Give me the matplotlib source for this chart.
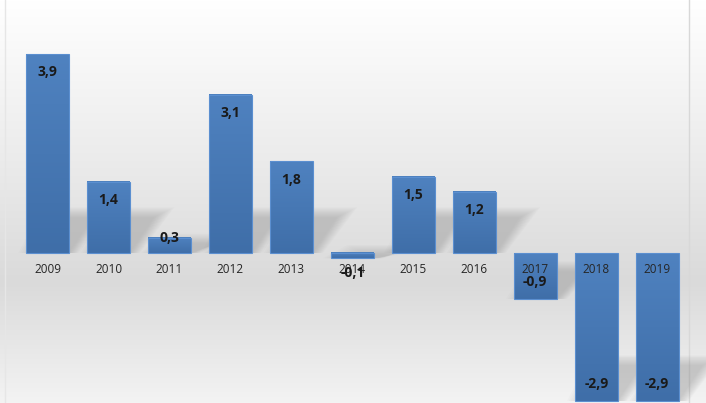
import numpy as np
from matplotlib import pyplot as plt
from matplotlib.patches import Rectangle, Polygon
from matplotlib.colors import LinearSegmentedColormap

# Data
years = ['2009', '2010', '2011', '2012', '2013', '2014', '2015', '2016', '2017', '2018', '2019']
values = [3.9, 1.4, 0.3, 3.1, 1.8, -0.1, 1.5, 1.2, -0.9, -2.9, -2.9]
value_labels = ['3,9', '1,4', '0,3', '3,1', '1,8', '-0,1', '1,5', '1,2', '-0,9', '-2,9', '-2,9']

plt.rcParams['font.family'] = ['Open Sans', 'DejaVu Sans']

fig = plt.figure(figsize=(7.06, 4.03), dpi=100)
ax = fig.add_axes([0, 0, 1, 1])
xlo, xhi = -0.78, 10.8
ylo, yhi = -2.94, 4.96
ax.set_xlim(xlo, xhi)
ax.set_ylim(ylo, yhi)
ax.axis('off')

# background gradient: white top -> grey -> lighter bottom
bg = LinearSegmentedColormap.from_list('bg', [(0, '#f3f3f3'), (0.3, '#dadada'),
                                              (0.6, '#ebebeb'), (1, '#ffffff')])
grad = np.linspace(0, 1, 256).reshape(-1, 1)
ax.imshow(grad, cmap=bg, origin='lower', aspect='auto',
          extent=[xlo, xhi, ylo, yhi], zorder=0)
ax.axvline(-0.7, color='#e6e6e6', lw=1, zorder=0.5)
ax.axvline(10.52, color='#d8d8d8', lw=1, zorder=0.5)

width = 0.7
barcmap = LinearSegmentedColormap.from_list('bar', ['#3f6ea8', '#4f82c0'])

for i, v in enumerate(values):
    x0 = i - width / 2
    base = min(0, v)
    top = max(0, v)

    # soft cast shadow at the lower end of the bar
    sh = min(0.7, abs(v) * 0.6)
    for k in range(12):
        g = k * 0.03
        pts = [(x0 + 0.2 - g, base), (x0 + width + g * 0.5, base),
               (x0 + width + 0.4 + g, base + sh + g * 0.6), (x0 + 0.6 - g, base + sh + g * 0.6)]
        ax.add_patch(Polygon(pts, closed=True, facecolor='#8a8a8a', edgecolor='none',
                             alpha=0.035, zorder=1))

    # bar body with vertical gradient
    ax.imshow(grad, cmap=barcmap, origin='lower', aspect='auto',
              extent=[x0, x0 + width, base, top], zorder=2)
    ax.add_patch(Rectangle((x0, base), width, top - base, facecolor='none',
                           edgecolor='#5b8fd0', lw=0.8, zorder=3))

    # value labels
    if abs(v) < 0.5:
        ly = v if v > 0 else v - 0.3
    else:
        ly = v - 0.36 if v > 0 else v + 0.33
    ax.text(i, ly, value_labels[i], ha='center', va='center', fontsize=10,
            fontweight='bold', color='#1a1a1a', zorder=5)

    # category labels just below zero line
    ax.text(i, -0.33, years[i], ha='center', va='center', fontsize=8.5,
            color='#262626', zorder=4)

fig.savefig('out.png', dpi=100)
